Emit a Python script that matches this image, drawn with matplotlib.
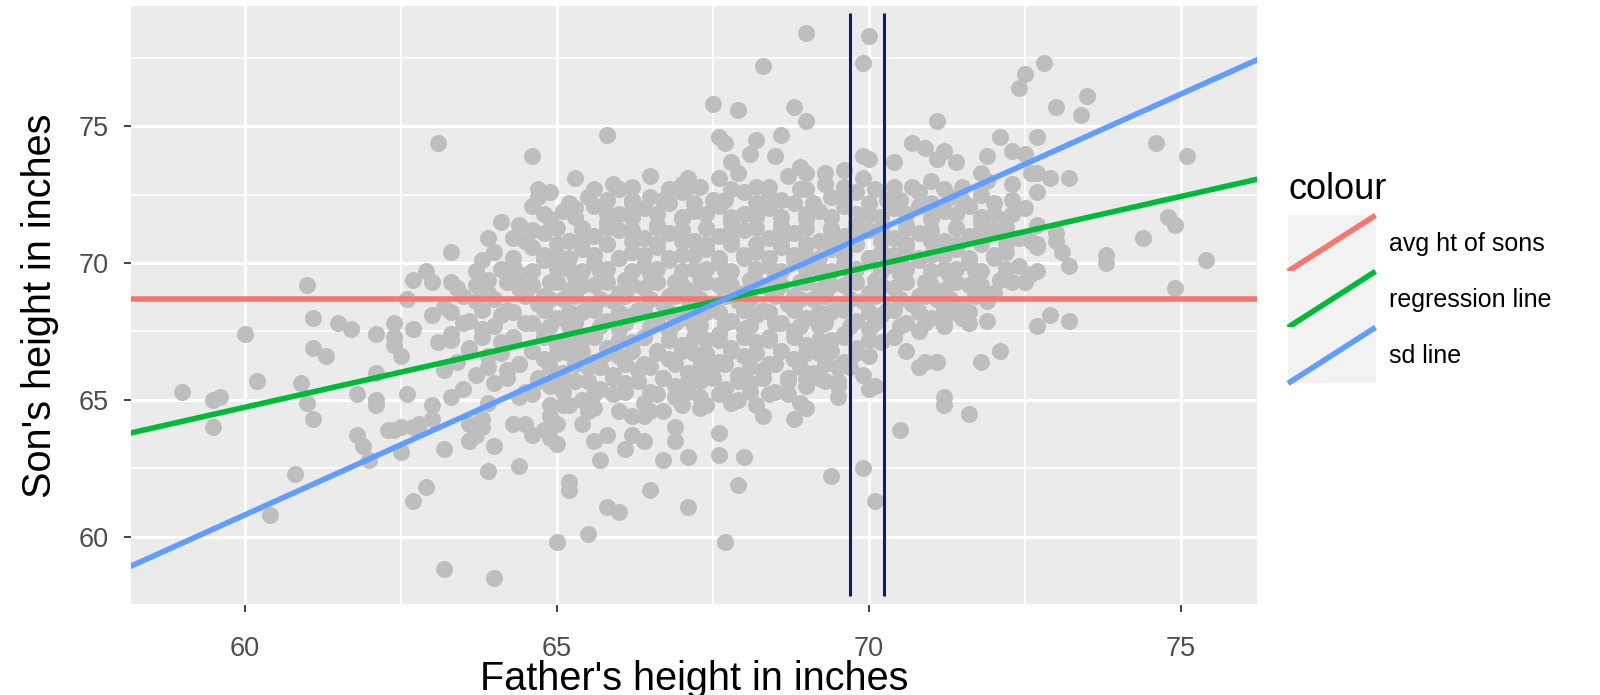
import numpy as np
import matplotlib
matplotlib.use("Agg")
import matplotlib.pyplot as plt
from matplotlib.legend_handler import HandlerBase
from matplotlib.lines import Line2D
from matplotlib.patches import Rectangle

plt.rcParams['font.family'] = ['Liberation Sans', 'DejaVu Sans']

# (father, son) heights, grouped by region
left_pts = [
    (59.0, 65.3), (59.5, 65.0), (59.6, 65.1), (59.5, 64.0), (60.0, 67.4), (60.2, 65.7), (60.9, 65.6),
    (61.0, 69.2), (61.1, 68.0), (61.5, 67.8), (61.7, 67.6), (62.1, 67.4), (62.4, 67.8), (62.4, 67.3),
    (62.4, 67.0), (62.5, 66.6), (61.1, 66.9), (61.3, 66.6), (61.8, 65.2), (62.1, 66.0), (62.1, 65.0),
    (62.7, 69.4), (62.6, 68.7), (62.7, 67.6), (62.6, 65.2), (61.0, 64.9), (61.1, 64.3), (62.1, 64.8),
    (61.8, 63.7), (61.9, 63.3), (62.0, 62.8), (62.3, 63.9), (62.4, 63.9), (62.5, 64.0), (62.7, 64.0),
    (62.5, 63.1), (60.8, 62.3), (60.4, 60.8), (62.7, 61.3), (62.9, 61.8),
    (62.9, 69.7), (63.0, 69.3), (63.3, 69.3), (63.3, 70.4), (63.7, 69.7), (63.1, 74.4),
]

low_pts = [
    (63.0, 64.8), (63.0, 64.3), (62.8, 64.1), (63.6, 64.1), (63.8, 64.3), (63.8, 64.0), (63.6, 63.5),
    (63.7, 63.7), (63.2, 63.2), (64.0, 63.3), (63.9, 62.4), (64.4, 62.6), (63.2, 58.8), (64.0, 58.5),
    (65.0, 59.8), (65.5, 60.1), (65.2, 62.0), (65.2, 61.7), (65.8, 61.1), (66.0, 60.9), (66.5, 61.7),
    (67.1, 61.1), (65.7, 62.8), (66.1, 63.2), (66.7, 62.8), (67.1, 62.9), (66.4, 63.5), (66.9, 63.5),
    (66.9, 64.0), (66.2, 63.7), (65.6, 63.5), (65.8, 63.7), (64.6, 63.7), (64.9, 63.6), (65.0, 63.4),
    (64.8, 63.9), (64.5, 64.1), (64.3, 64.1), (64.9, 64.4), (65.0, 64.1), (65.4, 64.1), (65.5, 64.6),
    (65.6, 64.7), (65.2, 64.8), (65.1, 64.8), (66.0, 64.6), (66.2, 64.4), (66.4, 64.4), (66.5, 64.6),
    (66.7, 64.6), (67.0, 64.8), (67.3, 64.7), (67.6, 63.8), (67.6, 63.0), (68.0, 62.9), (67.9, 61.9),
    (67.7, 59.8), (68.3, 64.4), (68.8, 64.3), (69.0, 64.7), (69.4, 62.2), (69.9, 62.5), (70.1, 61.3),
    (70.5, 63.9), (71.2, 64.8), (71.6, 64.5), (68.2, 64.8), (67.8, 64.9),
    (68.7, 65.8), (69.0, 65.8), (69.3, 65.7), (69.5, 65.5), (70.1, 65.5), (67.3, 65.1),
]

right_pts = [
    (75.4, 70.1), (74.9, 69.1), (74.4, 70.9), (74.8, 71.7), (74.9, 71.4), (73.8, 70.3), (73.8, 70.0),
    (73.2, 67.9), (72.9, 68.1), (72.7, 67.7), (73.1, 70.4), (73.2, 69.9), (72.7, 70.7), (72.7, 69.7),
    (72.5, 69.3), (72.1, 66.8), (71.8, 66.4), (73.0, 71.1), (73.0, 70.8),
    (70.8, 66.2), (71.1, 66.4), (71.2, 65.1), (70.9, 66.4), (71.2, 67.9), (71.5, 68.0), (71.6, 67.8),
]

top_pts = [
    (72.8, 77.3), (72.5, 76.9), (72.4, 76.4), (73.5, 76.1), (73.0, 75.7), (73.4, 75.4), (72.1, 74.6),
    (72.7, 74.6), (71.9, 73.9), (72.3, 74.1), (72.5, 74.0), (74.6, 74.4), (75.1, 73.9), (73.2, 73.1),
    (72.6, 73.3), (72.7, 73.3), (72.9, 73.1), (72.3, 72.9), (72.7, 72.6), (71.8, 73.3), (71.9, 73.0),
    (69.0, 78.4), (70.0, 78.3), (68.3, 77.2), (69.9, 77.3), (67.5, 75.8), (67.9, 75.6), (68.8, 75.7),
    (69.0, 75.2), (71.1, 75.2), (67.6, 74.6), (67.7, 74.4), (68.2, 74.5), (68.1, 74.0), (68.6, 74.7),
    (68.5, 73.9), (67.8, 73.7), (67.9, 73.3), (68.9, 73.5), (69.0, 73.3), (69.3, 73.3), (69.6, 73.4),
    (69.9, 73.9), (70.0, 73.8), (70.4, 73.7), (70.7, 74.4), (70.9, 74.2), (71.2, 74.1), (71.4, 73.7),
    (71.1, 73.8), (64.6, 73.9), (65.8, 74.7), (64.7, 72.7), (64.7, 72.4), (66.8, 72.7), (67.1, 73.1),
    (67.1, 72.8), (66.2, 72.3), (64.1, 71.5), (63.9, 70.9), (65.3, 72.0),
]

core_pts = [
    (65.3, 73.1), (65.9, 72.9), (66.5, 73.2), (67.0, 72.9), (67.6, 73.1), (68.2, 72.8), (68.7, 73.2),
    (69.3, 72.9), (69.9, 73.1), (70.4, 72.8), (71.0, 73.0), (71.5, 72.8),
    (64.9, 72.6), (65.5, 72.4), (66.0, 72.7), (66.5, 72.4), (67.0, 72.6), (67.5, 72.3), (68.0, 72.6),
    (68.4, 72.4), (68.9, 72.7), (69.4, 72.4), (69.8, 72.6), (70.3, 72.3), (70.8, 72.6), (71.3, 72.4),
    (71.8, 72.5), (72.3, 72.3),
    (64.6, 72.1), (65.1, 71.9), (65.6, 72.1), (66.0, 71.8), (66.4, 72.0), (66.8, 72.2), (67.2, 71.9),
    (67.6, 72.1), (68.0, 71.8), (68.4, 72.0), (68.8, 72.2), (69.2, 71.9), (69.6, 72.1), (70.0, 71.8),
    (70.4, 72.0), (70.8, 72.1), (71.2, 71.9), (71.6, 72.1), (72.0, 71.8), (72.5, 72.0),
    (64.4, 71.4), (64.9, 71.6), (65.4, 71.3), (65.8, 71.5), (66.2, 71.7), (66.6, 71.4), (67.0, 71.6),
    (67.4, 71.3), (67.8, 71.5), (68.2, 71.7), (68.6, 71.4), (69.0, 71.6), (69.4, 71.3), (69.8, 71.5),
    (70.2, 71.7), (70.6, 71.4), (71.0, 71.6), (71.4, 71.3), (71.8, 71.5), (72.2, 71.6), (72.7, 71.4),
    (64.3, 70.9), (64.8, 71.1), (65.2, 70.8), (65.6, 71.0), (66.0, 71.2), (66.4, 70.9), (66.8, 71.1),
    (67.2, 70.8), (67.6, 71.0), (68.0, 71.2), (68.4, 70.9), (68.8, 71.1), (69.2, 70.8), (69.6, 71.0),
    (70.0, 71.2), (70.4, 70.9), (70.8, 71.1), (71.2, 70.8), (71.6, 71.0), (72.0, 71.2), (72.4, 70.9),
    (64.0, 70.4), (64.6, 70.6), (65.0, 70.3), (65.4, 70.5), (65.8, 70.7), (66.2, 70.4), (66.6, 70.6),
    (67.0, 70.3), (67.4, 70.5), (67.8, 70.7), (68.2, 70.4), (68.6, 70.6), (69.0, 70.3), (69.4, 70.5),
    (69.8, 70.7), (70.2, 70.4), (70.6, 70.6), (71.0, 70.3), (71.4, 70.5), (71.8, 70.7), (72.2, 70.4),
    (72.7, 70.6),
    (63.8, 70.1), (64.3, 69.9), (64.8, 70.1), (65.2, 69.8), (65.6, 70.0), (66.0, 70.2), (66.4, 69.9),
    (66.8, 70.1), (67.2, 69.8), (67.6, 70.0), (68.0, 70.2), (68.4, 69.9), (68.8, 70.1), (69.2, 69.8),
    (69.6, 70.0), (70.0, 70.2), (70.4, 69.9), (70.8, 70.1), (71.2, 69.8), (71.6, 70.0), (72.0, 70.2),
    (72.4, 69.9),
    (63.9, 69.4), (64.4, 69.6), (64.9, 69.3), (65.3, 69.5), (65.7, 69.7), (66.1, 69.4), (66.5, 69.6),
    (66.9, 69.3), (67.3, 69.5), (67.7, 69.7), (68.1, 69.4), (68.5, 69.6), (68.9, 69.3), (69.3, 69.5),
    (69.7, 69.7), (70.1, 69.4), (70.5, 69.6), (70.9, 69.3), (71.3, 69.5), (71.7, 69.7), (72.1, 69.4),
    (72.6, 69.6),
    (63.4, 69.1), (63.9, 68.9), (64.4, 69.1), (64.8, 68.8), (65.2, 69.0), (65.6, 69.2), (66.0, 68.9),
    (66.4, 69.1), (66.8, 68.8), (67.2, 69.0), (67.6, 69.2), (68.0, 68.9), (68.4, 69.1), (68.8, 68.8),
    (69.2, 69.0), (69.6, 69.2), (70.0, 68.9), (70.4, 69.1), (70.8, 68.8), (71.2, 69.0), (71.6, 69.2),
    (72.0, 68.9),
    (63.2, 68.4), (63.7, 68.6), (64.2, 68.3), (64.7, 68.5), (65.1, 68.7), (65.5, 68.4), (65.9, 68.6),
    (66.3, 68.3), (66.7, 68.5), (67.1, 68.7), (67.5, 68.4), (67.9, 68.6), (68.3, 68.3), (68.7, 68.5),
    (69.1, 68.7), (69.5, 68.4), (69.9, 68.6), (70.3, 68.3), (70.7, 68.5), (71.1, 68.7), (71.5, 68.4),
    (71.9, 68.6),
    (63.0, 68.1), (63.6, 67.9), (64.1, 68.1), (64.6, 67.8), (65.0, 68.0), (65.4, 68.2), (65.8, 67.9),
    (66.2, 68.1), (66.6, 67.8), (67.0, 68.0), (67.4, 68.2), (67.8, 67.9), (68.2, 68.1), (68.6, 67.8),
    (69.0, 68.0), (69.4, 68.2), (69.8, 67.9), (70.2, 68.1), (70.6, 67.8), (71.0, 68.0), (71.4, 68.2),
    (71.9, 67.9),
    (63.3, 67.4), (63.8, 67.6), (64.3, 67.3), (64.8, 67.5), (65.2, 67.7), (65.6, 67.4), (66.0, 67.6),
    (66.4, 67.3), (66.8, 67.5), (67.2, 67.7), (67.6, 67.4), (68.0, 67.6), (68.4, 67.3), (68.8, 67.5),
    (69.2, 67.7), (69.6, 67.4), (70.0, 67.6), (70.4, 67.3), (70.8, 67.5), (71.2, 67.7),
    (63.1, 67.1), (63.6, 66.9), (64.1, 67.1), (64.6, 66.8), (65.0, 67.0), (65.4, 67.2), (65.8, 66.9),
    (66.2, 67.1), (66.6, 66.8), (67.0, 67.0), (67.4, 67.2), (67.8, 66.9), (68.2, 67.1), (68.6, 66.8),
    (69.0, 67.0), (69.4, 67.2), (69.8, 66.9), (70.2, 67.1), (70.6, 66.8),
    (63.4, 66.4), (63.9, 66.6), (64.4, 66.3), (64.8, 66.5), (65.2, 66.7), (65.6, 66.4), (66.0, 66.6),
    (66.4, 66.3), (66.8, 66.5), (67.2, 66.7), (67.6, 66.4), (68.0, 66.6), (68.4, 66.3), (68.8, 66.5),
    (69.2, 66.7), (69.6, 66.4), (70.0, 66.6),
    (63.2, 66.1), (63.7, 65.9), (64.2, 66.1), (64.7, 65.8), (65.1, 66.0), (65.5, 66.2), (65.9, 65.9),
    (66.3, 66.1), (66.7, 65.8), (67.1, 66.0), (67.5, 66.2), (67.9, 65.9), (68.3, 66.1), (68.7, 65.8),
    (69.1, 66.0), (69.5, 66.2), (69.9, 65.9),
    (63.5, 65.4), (64.0, 65.6), (64.5, 65.3), (64.9, 65.5), (65.3, 65.7), (65.7, 65.4), (66.1, 65.6),
    (66.5, 65.3), (66.9, 65.5), (67.3, 65.7), (67.7, 65.4), (68.1, 65.6), (68.5, 65.3), (69.0, 65.5),
    (69.5, 65.7), (70.0, 65.4),
    (63.3, 65.1), (63.9, 64.9), (64.4, 65.1), (64.9, 64.8), (65.4, 65.0), (65.9, 65.2), (66.4, 64.9),
    (66.9, 65.1), (67.4, 64.8), (67.9, 65.0), (68.4, 65.2), (68.9, 64.9), (69.5, 65.1),
]

# the packed middle of the cloud, between the rows above
dense_pts = [
    (65.6, 72.7), (66.2, 72.8), (66.8, 72.7), (67.3, 72.8), (67.8, 72.7), (68.4, 72.8), (69.0, 72.7),
    (69.6, 72.8), (70.1, 72.7), (70.7, 72.8), (71.2, 72.7),
    (65.2, 72.2), (65.8, 72.3), (66.2, 72.2), (66.7, 72.3), (67.2, 72.2), (67.7, 72.3), (68.2, 72.2),
    (68.6, 72.3), (69.1, 72.2), (69.6, 72.3), (70.0, 72.2), (70.5, 72.3), (71.0, 72.2), (71.5, 72.3),
    (72.0, 72.2),
    (64.8, 71.8), (65.3, 71.7), (65.8, 71.8), (66.2, 71.7), (66.6, 71.8), (67.0, 71.7), (67.4, 71.8),
    (67.8, 71.7), (68.2, 71.8), (68.6, 71.7), (69.0, 71.8), (69.4, 71.7), (69.8, 71.8), (70.2, 71.7),
    (70.6, 71.8), (71.0, 71.7), (71.4, 71.8), (71.8, 71.7), (72.3, 71.8),
    (64.6, 71.2), (65.0, 71.3), (65.4, 71.2), (65.8, 71.3), (66.2, 71.2), (66.6, 71.3), (67.0, 71.2),
    (67.4, 71.3), (67.8, 71.2), (68.2, 71.3), (68.6, 71.2), (69.0, 71.3), (69.4, 71.2), (69.8, 71.3),
    (70.2, 71.2), (70.6, 71.3), (71.0, 71.2), (71.4, 71.3), (71.8, 71.2), (72.2, 71.3),
    (64.5, 70.8), (65.0, 70.7), (65.4, 70.8), (65.8, 70.7), (66.2, 70.8), (66.6, 70.7), (67.0, 70.8),
    (67.4, 70.7), (67.8, 70.8), (68.2, 70.7), (68.6, 70.8), (69.0, 70.7), (69.4, 70.8), (69.8, 70.7),
    (70.2, 70.8), (70.6, 70.7), (71.0, 70.8), (71.4, 70.7), (71.8, 70.8), (72.2, 70.7), (72.6, 70.8),
    (64.3, 70.2), (64.8, 70.3), (65.2, 70.2), (65.6, 70.3), (66.0, 70.2), (66.4, 70.3), (66.8, 70.2),
    (67.2, 70.3), (67.6, 70.2), (68.0, 70.3), (68.4, 70.2), (68.8, 70.3), (69.2, 70.2), (69.6, 70.3),
    (70.0, 70.2), (70.4, 70.3), (70.8, 70.2), (71.2, 70.3), (71.6, 70.2), (72.0, 70.3),
    (64.1, 69.8), (64.6, 69.7), (65.0, 69.8), (65.4, 69.7), (65.8, 69.8), (66.2, 69.7), (66.6, 69.8),
    (67.0, 69.7), (67.4, 69.8), (67.8, 69.7), (68.2, 69.8), (68.6, 69.7), (69.0, 69.8), (69.4, 69.7),
    (69.8, 69.8), (70.2, 69.7), (70.6, 69.8), (71.0, 69.7), (71.4, 69.8), (71.8, 69.7), (72.2, 69.8),
    (63.7, 69.2), (64.2, 69.3), (64.6, 69.2), (65.0, 69.3), (65.4, 69.2), (65.8, 69.3), (66.2, 69.2),
    (66.6, 69.3), (67.0, 69.2), (67.4, 69.3), (67.8, 69.2), (68.2, 69.3), (68.6, 69.2), (69.0, 69.3),
    (69.4, 69.2), (69.8, 69.3), (70.2, 69.2), (70.6, 69.3), (71.0, 69.2), (71.4, 69.3), (71.8, 69.2),
    (72.3, 69.3),
    (63.5, 68.8), (64.0, 68.7), (64.5, 68.8), (64.9, 68.7), (65.3, 68.8), (65.7, 68.7), (66.1, 68.8),
    (66.5, 68.7), (66.9, 68.8), (67.3, 68.7), (67.7, 68.8), (68.1, 68.7), (68.5, 68.8), (68.9, 68.7),
    (69.3, 68.8), (69.7, 68.7), (70.1, 68.8), (70.5, 68.7), (70.9, 68.8), (71.3, 68.7), (71.7, 68.8),
    (63.3, 68.2), (63.8, 68.3), (64.3, 68.2), (64.8, 68.3), (65.2, 68.2), (65.6, 68.3), (66.0, 68.2),
    (66.4, 68.3), (66.8, 68.2), (67.2, 68.3), (67.6, 68.2), (68.0, 68.3), (68.4, 68.2), (68.8, 68.3),
    (69.2, 68.2), (69.6, 68.3), (70.0, 68.2), (70.4, 68.3), (70.8, 68.2), (71.2, 68.3), (71.6, 68.2),
    (63.5, 67.8), (64.0, 67.7), (64.5, 67.8), (64.9, 67.7), (65.3, 67.8), (65.7, 67.7), (66.1, 67.8),
    (66.5, 67.7), (66.9, 67.8), (67.3, 67.7), (67.7, 67.8), (68.1, 67.7), (68.5, 67.8), (68.9, 67.7),
    (69.3, 67.8), (69.7, 67.7), (70.1, 67.8), (70.5, 67.7), (70.9, 67.8),
    (63.3, 67.2), (63.8, 67.3), (64.3, 67.2), (64.8, 67.3), (65.2, 67.2), (65.6, 67.3), (66.0, 67.2),
    (66.4, 67.3), (66.8, 67.2), (67.2, 67.3), (67.6, 67.2), (68.0, 67.3), (68.4, 67.2), (68.8, 67.3),
    (69.2, 67.2), (69.6, 67.3), (70.0, 67.2), (70.4, 67.3),
    (63.6, 66.8), (64.1, 66.7), (64.6, 66.8), (65.0, 66.7), (65.4, 66.8), (65.8, 66.7), (66.2, 66.8),
    (66.6, 66.7), (67.0, 66.8), (67.4, 66.7), (67.8, 66.8), (68.2, 66.7), (68.6, 66.8), (69.0, 66.7),
    (69.4, 66.8), (69.8, 66.7),
    (63.9, 66.2), (64.4, 66.3), (64.9, 66.2), (65.3, 66.3), (65.7, 66.2), (66.1, 66.3), (66.5, 66.2),
    (66.9, 66.3), (67.3, 66.2), (67.7, 66.3), (68.1, 66.2), (68.5, 66.3), (68.9, 66.2), (69.3, 66.3),
    (69.7, 66.2),
    (64.2, 65.8), (64.7, 65.7), (65.1, 65.8), (65.5, 65.7), (65.9, 65.8), (66.3, 65.7), (66.7, 65.8),
    (67.1, 65.7), (67.5, 65.8), (67.9, 65.7), (68.3, 65.8), (68.7, 65.7), (69.2, 65.8),
    (64.6, 65.2), (65.1, 65.3), (65.6, 65.2), (66.1, 65.3), (66.6, 65.2), (67.1, 65.3), (67.6, 65.2),
    (68.1, 65.3), (68.7, 65.2),
]

avg_son = 68.68
mean_father = 67.69
reg_slope = 0.514
sd_slope = 1.026
vline_x = [69.70, 70.25]
vline_lo, vline_hi = 57.83, 79.13

line_labels = ["avg ht of sons", "regression line", "sd line"]
line_colors = ["#F8766D", "#00BA38", "#619CFF"]

pts = left_pts + low_pts + right_pts + top_pts + core_pts + dense_pts
father = np.array([p[0] for p in pts])
son = np.array([p[1] for p in pts])


class DiagKey(HandlerBase):
    def create_artists(self, legend, orig_handle, xdescent, ydescent, width, height, fontsize, trans):
        bg = Rectangle((-xdescent, -ydescent), width, height, facecolor="#F2F2F2",
                       edgecolor="none", transform=trans)
        ln = Line2D([-xdescent, -xdescent + width], [-ydescent, -ydescent + height],
                    color=orig_handle.get_color(), lw=orig_handle.get_linewidth(),
                    transform=trans, solid_capstyle="butt")
        return [bg, ln]


fig = plt.figure(figsize=(16, 6.95), dpi=100)
ax = fig.add_axes([131 / 1600, 90 / 695, 1126 / 1600, 599 / 695])
ax.set_facecolor("#EBEBEB")
for s in ax.spines.values():
    s.set_visible(False)

ax.scatter(father, son, s=150, c="#BEBEBE", linewidths=0, zorder=2)
ax.axhline(avg_son, color=line_colors[0], lw=4, zorder=3)
ax.axline((mean_father, avg_son), slope=reg_slope, color=line_colors[1], lw=4, zorder=3)
ax.axline((mean_father, avg_son), slope=sd_slope, color=line_colors[2], lw=4, zorder=3)
ax.vlines(vline_x, vline_lo, vline_hi, color="#0B1F6B", lw=2.2, zorder=4)

ax.set_xlim(58.18, 76.22)
ax.set_ylim(57.5, 79.4)
ax.set_xticks([60, 65, 70, 75])
ax.set_xticks([62.5, 67.5, 72.5], minor=True)
ax.set_yticks([60, 65, 70, 75])
ax.set_yticks([57.5, 62.5, 67.5, 72.5, 77.5], minor=True)
ax.set_axisbelow(True)
ax.grid(which="major", color="white", lw=2.3)
ax.grid(which="minor", color="white", lw=1.2)
ax.tick_params(which="minor", length=0)
ax.tick_params(which="major", length=5, width=1.3, color="#333333",
               labelsize=19.5, labelcolor="#4D4D4D")
ax.tick_params(axis="x", pad=17)
ax.tick_params(axis="y", pad=11)

ax.set_xlabel("Father's height in inches", fontsize=28.5, labelpad=-1)
ax.set_ylabel("Son's height in inches", fontsize=28.5, labelpad=14.5)

handles = [Line2D([], [], color=c, lw=4) for c in line_colors]
leg = fig.legend(handles, line_labels, loc="upper left", bbox_to_anchor=(1288 / 1600, 1 - 172 / 695),
                 bbox_transform=fig.transFigure, frameon=False, borderpad=0, borderaxespad=0,
                 title="colour", title_fontsize=26, fontsize=18, alignment="left",
                 handlelength=3.5, handleheight=3.07, labelspacing=0, handletextpad=0.55,
                 handler_map={Line2D: DiagKey()})
leg._legend_box.sep = 6

fig.savefig("out.png", dpi=100)
